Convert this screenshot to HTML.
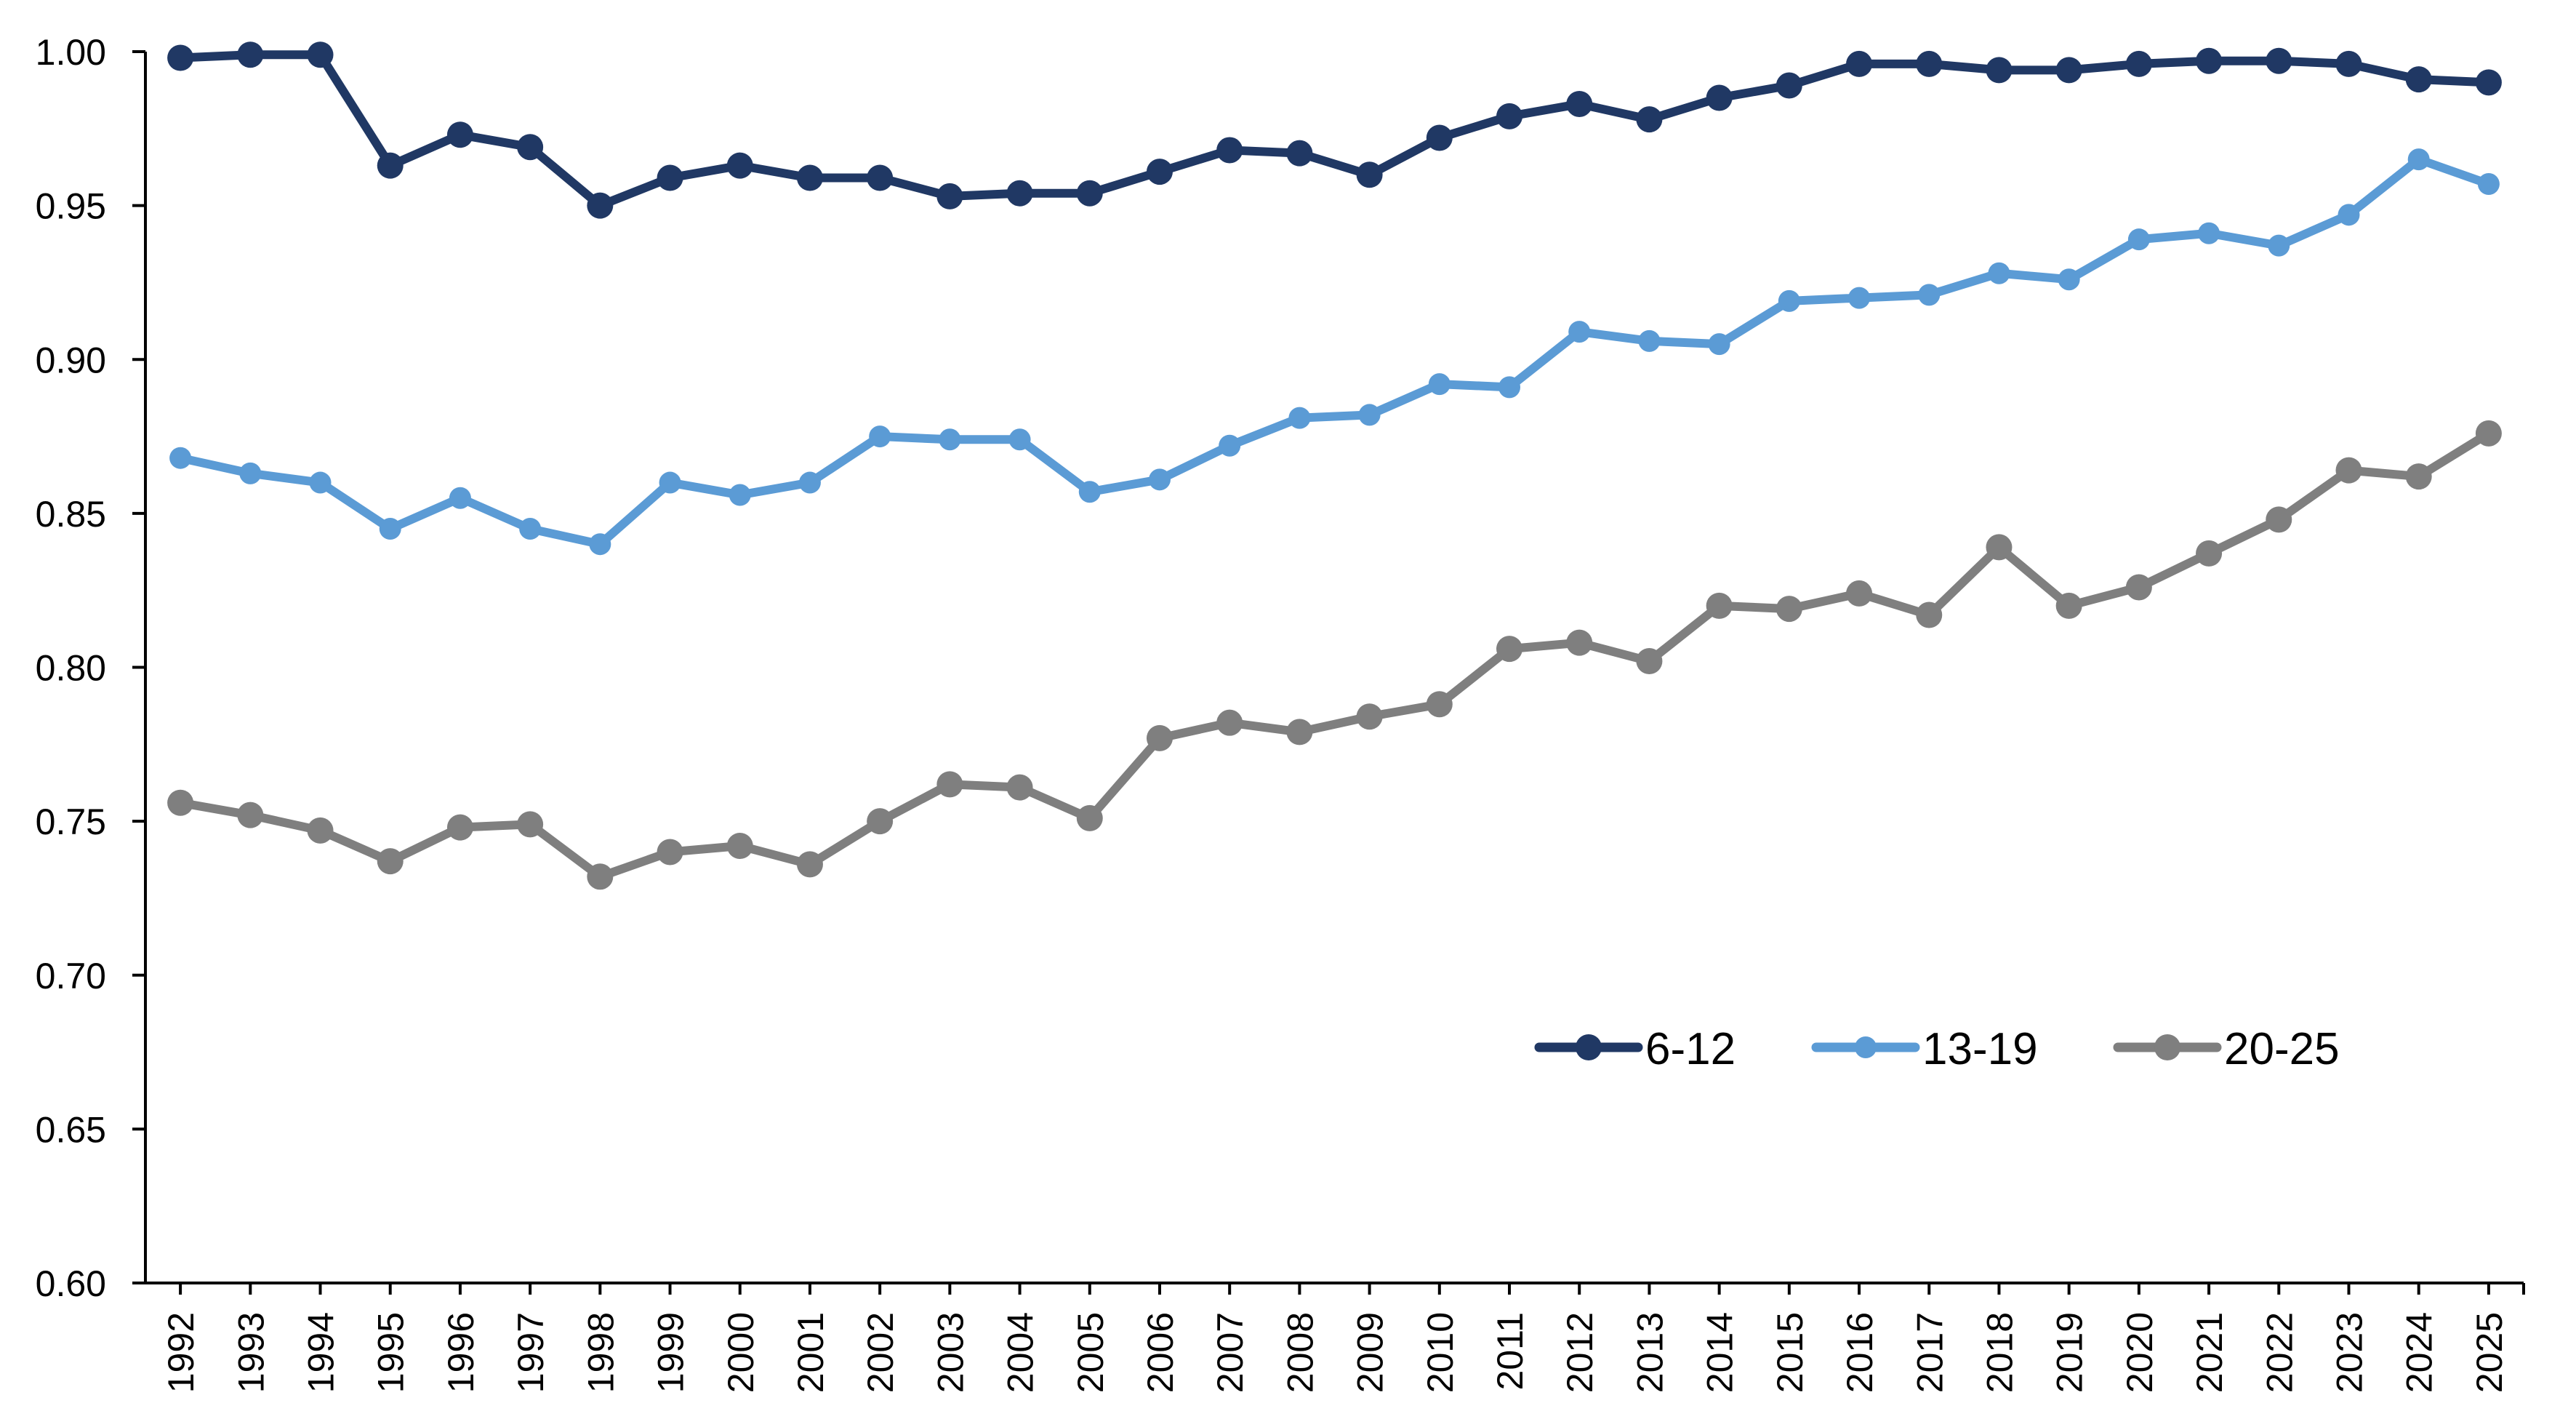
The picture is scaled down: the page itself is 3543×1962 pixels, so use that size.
<!DOCTYPE html>
<html><head><meta charset="utf-8"><style>
html,body{margin:0;padding:0;background:#fff;}
svg{display:block;font-family:"Liberation Sans",sans-serif;}
</style></head><body>
<svg id="chart" width="3543" height="1962" viewBox="0 0 3543 1962" xmlns="http://www.w3.org/2000/svg">
<g id="axes"></g>
<g id="series"></g>
<g id="legend"></g>
</svg>
<script>
const years = [1992,1993,1994,1995,1996,1997,1998,1999,2000,2001,2002,2003,2004,2005,2006,2007,2008,2009,2010,2011,2012,2013,2014,2015,2016,2017,2018,2019,2020,2021,2022,2023,2024,2025];
const s612 = [0.998,0.999,0.999,0.963,0.973,0.969,0.950,0.959,0.963,0.959,0.959,0.953,0.954,0.954,0.961,0.968,0.967,0.960,0.972,0.979,0.983,0.978,0.985,0.989,0.996,0.996,0.994,0.994,0.996,0.997,0.997,0.996,0.991,0.990];
const s1319 = [0.868,0.863,0.860,0.845,0.855,0.845,0.840,0.860,0.856,0.860,0.875,0.874,0.874,0.857,0.861,0.872,0.881,0.882,0.892,0.891,0.909,0.906,0.905,0.919,0.920,0.921,0.928,0.926,0.939,0.941,0.937,0.947,0.965,0.957];
const s2025 = [0.756,0.752,0.747,0.737,0.748,0.749,0.732,0.740,0.742,0.736,0.750,0.762,0.761,0.751,0.777,0.782,0.779,0.784,0.788,0.806,0.808,0.802,0.820,0.819,0.824,0.817,0.839,0.820,0.826,0.837,0.848,0.864,0.862,0.876];
const yTicks = [0.60,0.65,0.70,0.75,0.80,0.85,0.90,0.95,1.00];
const seriesNames = ["6-12","13-19","20-25"];

const NS="http://www.w3.org/2000/svg";
const X0=200, X1=3471, Y0=1764, Y1=71, YMIN=0.6, YMAX=1.0;
const step=(X1-X0)/years.length;
const xs=i=>X0+step*(i+0.5);
const ys=v=>Y0-(v-YMIN)/(YMAX-YMIN)*(Y0-Y1);
function mk(tag,attrs,parent){const e=document.createElementNS(NS,tag);for(const k in attrs)e.setAttribute(k,attrs[k]);parent.appendChild(e);return e;}
const axes=document.getElementById('axes');
let yl=mk('line',{x1:X0,y1:Y0,x2:X0,y2:Y1,stroke:'#000','stroke-width':4},axes);


let xl=mk('line',{x1:X0-18,y1:Y0,x2:X1,y2:Y0,stroke:'#000','stroke-width':4},axes);


yTicks.forEach(t=>{
  const y=ys(t);
  const tk=mk('line',{x1:X0-18,y1:y,x2:X0,y2:y,stroke:'#000','stroke-width':4},axes);
  
  
  const tx=mk('text',{x:146,y:y+18,'text-anchor':'end','font-size':50,fill:'#000'},axes);
  tx.textContent=t.toFixed(2);
  
  
});
years.forEach((yr,i)=>{
  const x=xs(i);
  const tk=mk('line',{x1:x,y1:Y0,x2:x,y2:Y0+16,stroke:'#000','stroke-width':4},axes);
  
  
  const tx=mk('text',{x:0,y:0,'text-anchor':'end','font-size':50,fill:'#000',transform:`translate(${x+18},1804) rotate(-90)`},axes);
  tx.textContent=yr;
  
  
});
const endTk=mk('line',{x1:X1,y1:Y0,x2:X1,y2:Y0+16,stroke:'#000','stroke-width':4},axes);



const sg=document.getElementById('series');
const all=[s612,s1319,s2025];
const colors=['#203864','#5B9BD5','#7F7F7F'];
const radii=[18,15,18];
all.forEach((data,si)=>{
  const g=mk('g',{},sg);
  
  
  const pl=mk('polyline',{points:data.map((v,i)=>xs(i)+','+ys(v)).join(' '),fill:'none',stroke:colors[si],'stroke-width':12,'stroke-linejoin':'round'},g);
  
  
  data.forEach((v,i)=>{
    const c=mk('circle',{cx:xs(i),cy:ys(v),r:radii[si],fill:colors[si]},g);
    
    
  });
});

const lg=document.getElementById('legend');
const lx=[2117,2498,2913];
seriesNames.forEach((n,si)=>{
  const g=mk('g',{},lg);
  
  
  const y=1440;
  mk('line',{x1:lx[si],y1:y,x2:lx[si]+136,y2:y,stroke:colors[si],'stroke-width':13,'stroke-linecap':'round'},g);
  mk('circle',{cx:lx[si]+68,cy:y,r:radii[si],fill:colors[si]},g);
  const t=mk('text',{x:lx[si]+146,y:y+23,'font-size':62,fill:'#000'},g);
  t.textContent=n;
  
  
});
</script>
</body></html>
